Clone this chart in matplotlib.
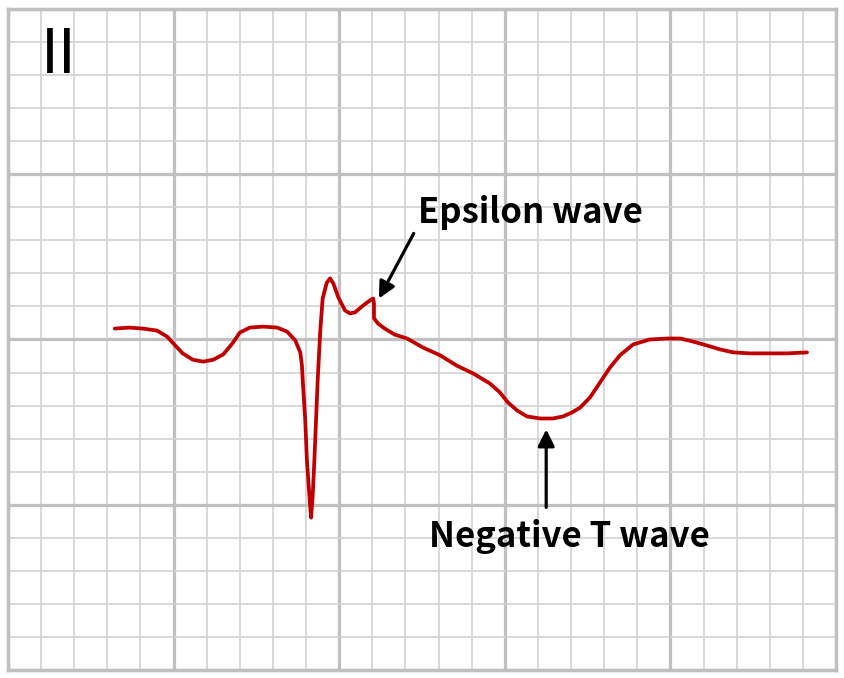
# ECG lead II strip with epsilon wave and negative T wave
import numpy as np
import matplotlib.pyplot as plt

# time (s) and amplitude (mV), 25 mm/s and 10 mm/mV
time_s = [0.129, 0.147, 0.163, 0.180, 0.192, 0.202, 0.211, 0.223, 0.236, 0.248,
          0.260, 0.271, 0.280, 0.292, 0.308, 0.325, 0.337, 0.347, 0.353, 0.355,
          0.356, 0.359, 0.361, 0.364, 0.366, 0.368, 0.370, 0.372, 0.374, 0.377,
          0.380, 0.385, 0.389, 0.393, 0.399, 0.407, 0.413, 0.419, 0.429, 0.437,
          0.441, 0.442, 0.442, 0.447, 0.455, 0.467, 0.482, 0.501, 0.522, 0.542,
          0.562, 0.582, 0.594, 0.604, 0.615, 0.627, 0.643, 0.658, 0.670, 0.681,
          0.691, 0.703, 0.715, 0.727, 0.739, 0.755, 0.775, 0.796, 0.812, 0.827,
          0.844, 0.860, 0.876, 0.896, 0.917, 0.941, 0.965]
amp_mv = [0.033, 0.036, 0.033, 0.027, 0.009, -0.018, -0.042, -0.061, -0.067, -0.061,
          -0.045, -0.012, 0.021, 0.036, 0.039, 0.036, 0.024, -0.003, -0.039, -0.079,
          -0.124, -0.245, -0.366, -0.472, -0.539, -0.472, -0.366, -0.245, -0.124, 0.021,
          0.124, 0.172, 0.185, 0.169, 0.127, 0.088, 0.079, 0.082, 0.103, 0.118,
          0.124, 0.109, 0.064, 0.048, 0.033, 0.015, 0.003, -0.024, -0.048, -0.079,
          -0.103, -0.133, -0.160, -0.191, -0.215, -0.233, -0.239, -0.239, -0.233, -0.221,
          -0.206, -0.175, -0.130, -0.085, -0.048, -0.015, 0.000, 0.003, 0.003, -0.006,
          -0.018, -0.030, -0.039, -0.042, -0.042, -0.042, -0.039]

lead_name = "II"
label_epsilon = "Epsilon wave"
label_twave = "Negative T wave"

plt.rcParams['font.family'] = ['Noto Sans CJK KR', 'DejaVu Sans']

fig = plt.figure(figsize=(8.45, 6.78), dpi=100)
ax = fig.add_axes([8 / 845, 8 / 678, 828 / 845, 661 / 678])
ax.set_xlim(0, 1.0)
ax.set_ylim(-1.0, 1.0)

# ECG paper grid: small boxes 0.04 s / 0.1 mV, big boxes 0.2 s / 0.5 mV
ax.set_xticks(np.arange(0, 1.001, 0.2))
ax.set_xticks(np.arange(0, 1.001, 0.04), minor=True)
ax.set_yticks(np.arange(-1.0, 1.001, 0.5))
ax.set_yticks(np.arange(-1.0, 1.001, 0.1), minor=True)
ax.grid(which='minor', color='#d2d2d2', linewidth=1.2)
ax.grid(which='major', color='#c0c0c0', linewidth=2.3)
ax.tick_params(which='both', length=0, labelbottom=False, labelleft=False)
for sp in ax.spines.values():
    sp.set_color('#c0c0c0')
    sp.set_linewidth(2.5)
ax.set_axisbelow(True)

ax.plot(time_s, amp_mv, color='#c00000', linewidth=2.7,
        solid_joinstyle='round', solid_capstyle='round', zorder=3)

# lead label
ax.text(0.040, 0.805, lead_name, fontsize=44, color='black',
        ha='left', va='baseline')

# annotations
ax.annotate('', xy=(0.448, 0.124), xytext=(0.490, 0.321),
            arrowprops=dict(arrowstyle='-|>', lw=2.3, color='black',
                            mutation_scale=25, shrinkA=0, shrinkB=0), zorder=4)
ax.text(0.495, 0.354, label_epsilon, fontsize=25, fontweight='bold',
        ha='left', va='baseline')

ax.annotate('', xy=(0.650, -0.272), xytext=(0.650, -0.508),
            arrowprops=dict(arrowstyle='-|>', lw=2.3, color='black',
                            mutation_scale=25, shrinkA=0, shrinkB=0), zorder=4)
ax.text(0.509, -0.629, label_twave, fontsize=25, fontweight='bold',
        ha='left', va='baseline')

plt.savefig('out.png', dpi=100)
